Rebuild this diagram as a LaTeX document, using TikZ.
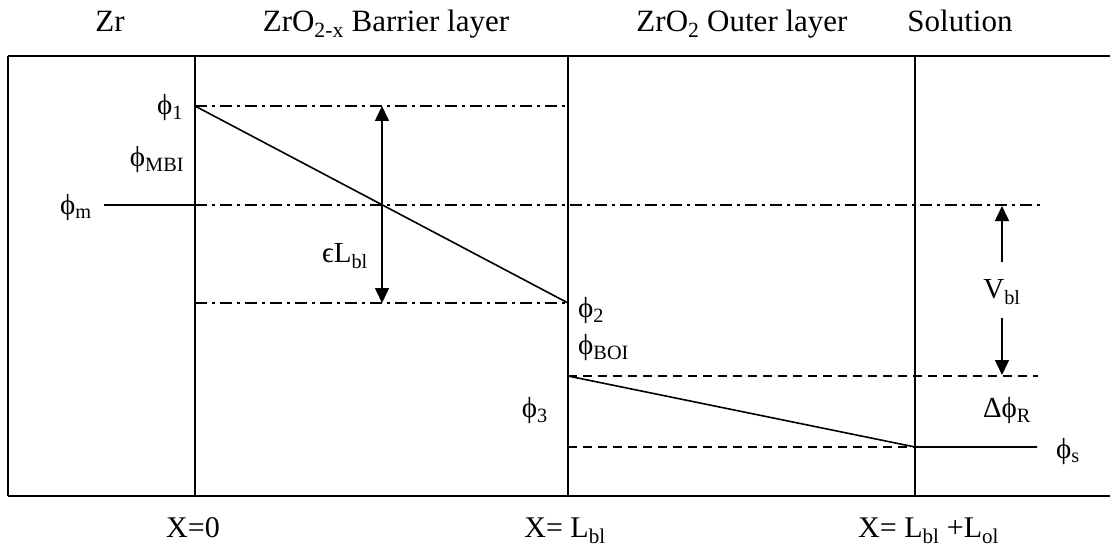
\documentclass[tikz,border=0pt]{standalone}
\usepackage{fontspec}
\setmainfont{Liberation Serif}
\usetikzlibrary{arrows.meta}
\begin{document}
\begin{tikzpicture}[x=1pt,y=-1pt,
  lbl/.style={inner sep=0pt, font=\fontsize{29}{34}\selectfont},
  head/.style={inner sep=0pt, anchor=base, font=\fontsize{31}{36}\selectfont},
  foot/.style={inner sep=0pt, anchor=base, font=\fontsize{30}{35}\selectfont},
  frameline/.style={line width=2.6pt},
  wall/.style={line width=1.6pt},
  solidline/.style={line width=1.6pt},
  dashdot/.style={line width=1.2pt, dash pattern=on 12pt off 5pt on 3pt off 5pt},
  dashedline/.style={line width=1.2pt, dash pattern=on 9pt off 6pt},
  arr/.style={line width=1.6pt, -{Triangle[length=15pt,width=14pt]}},
  dblarr/.style={line width=1.6pt, {Triangle[length=15pt,width=14pt]}-{Triangle[length=15pt,width=14pt]}}
]
\useasboundingbox (0,0) rectangle (1110,548);

% frame
\coordinate (TL) at (8,56);
\coordinate (TR) at (1110,56);
\coordinate (BL) at (8,496);
\coordinate (BR) at (1110,496);
% walls
\coordinate (w0t) at (195,56);  \coordinate (w0b) at (195,496);
\coordinate (w1t) at (568,56);  \coordinate (w1b) at (568,496);
\coordinate (w2t) at (915,56);  \coordinate (w2b) at (915,496);
% potential points
\coordinate (p1) at (195,106);
\coordinate (p1e) at (568,106);
\coordinate (pm) at (195,205);
\coordinate (pmL) at (104,205);
\coordinate (pmE) at (1043,205);
\coordinate (p2) at (568,303);
\coordinate (p2s) at (195,303);
\coordinate (p3) at (568,376);
\coordinate (p3e) at (1038,376);
\coordinate (ps) at (915,447);
\coordinate (psL) at (568,447);
\coordinate (psR) at (1037,447);
% arrow points
\coordinate (a1) at (382,106);
\coordinate (a2) at (382,303);
\coordinate (v1s) at (1002,262);
\coordinate (v1t) at (1002,206);
\coordinate (v2s) at (1002,318);
\coordinate (v2t) at (1002,375);

% dash-dot levels
\draw[dashdot] (p1) -- (p1e);
\draw[dashdot] (pm) -- (pmE);
\draw[dashdot] (p2s) -- (p2);
% dashed levels
\draw[dashedline] (p3) -- (p3e);
\draw[dashedline] (psL) -- (ps);

% frame and walls
\draw[frameline] (TL) -- (TR);
\draw[frameline] (BL) -- (BR);
\draw[wall] (TL) -- (BL);
\draw[wall] (w0t) -- (w0b);
\draw[wall] (w1t) -- (w1b);
\draw[wall] (w2t) -- (w2b);

% potential profile
\draw[solidline] (pmL) -- (pm);
\draw[solidline] (p1) -- (p2);
\draw[solidline] (p3) -- (ps) -- (psR);

% arrows
\draw[dblarr] (a1) -- (a2);
\draw[arr] (v1s) -- (v1t);
\draw[arr] (v2s) -- (v2t);

% headers
\node[head] (hZr) at (110,32) {Zr};
\node[head] (hBL) at (386,32) {ZrO\textsubscript{2-x} Barrier layer};
\node[head] (hOL) at (742,32) {ZrO\textsubscript{2} Outer layer};
\node[head] (hS) at (960,32) {Solution};

% labels
\node[lbl] (lphi1) at (170,108) {ϕ\textsubscript{1}};
\node[lbl] (lmbi) at (157,160) {ϕ\textsubscript{MBI}};
\node[lbl] (lphim) at (76,208) {ϕ\textsubscript{m}};
\node[lbl] (leps) at (345,256) {ϵL\textsubscript{bl}};
\node[lbl, anchor=west] (lphi2) at (578,311) {ϕ\textsubscript{2}};
\node[lbl, anchor=west] (lboi) at (578,348) {ϕ\textsubscript{BOI}};
\node[lbl, anchor=east] (lphi3) at (548,411) {ϕ\textsubscript{3}};
\node[lbl] (ldR) at (1007,411) {Δϕ\textsubscript{R}};
\node[lbl, anchor=west] (lphis) at (1056,452) {ϕ\textsubscript{s}};
\node[lbl] (lVbl) at (1002,292) {V\textsubscript{bl}};

% bottom positions
\node[foot] (x0) at (193,537) {X=0};
\node[foot] (x1) at (565,537) {X= L\textsubscript{bl}};
\node[foot, anchor=base west] (x2) at (858,537) {X= L\textsubscript{bl} +L\textsubscript{ol}};
\end{tikzpicture}
\end{document}
